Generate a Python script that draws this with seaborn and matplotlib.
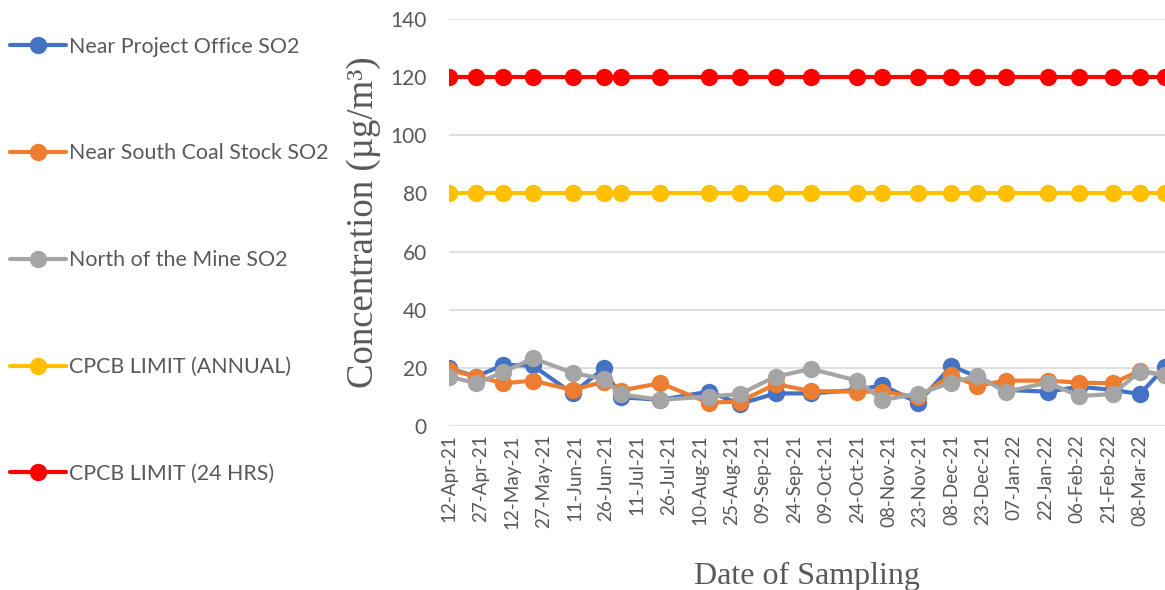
import matplotlib
matplotlib.use("Agg")
import matplotlib.pyplot as plt
import matplotlib.dates as mdates
import pandas as pd
import seaborn as sns

# Sampling dates and SO2 readings (ug/m3)
dates = ["2021-04-12", "2021-04-25", "2021-05-08", "2021-05-22", "2021-06-10",
         "2021-06-25", "2021-07-03", "2021-07-22", "2021-08-14", "2021-08-29",
         "2021-09-15", "2021-10-02", "2021-10-24", "2021-11-05", "2021-11-22",
         "2021-12-08", "2021-12-20", "2022-01-03", "2022-01-23", "2022-02-07",
         "2022-02-23", "2022-03-08", "2022-03-20"]
project_office = [19.8, 17.0, 21.0, 20.8, 11.2, 19.8, 9.9, 9.0, 11.8, 7.6, 11.2, 11.2,
                  12.4, 14.0, 8.0, 20.6, 17.0, 12.4, 11.8, 13.5, 12.4, 11.0, 20.2]
south_coal = [19.3, 17.0, 14.7, 15.6, 12.4, 15.2, 12.2, 14.7, 8.0, 8.4, 14.4, 12.0,
              11.8, 11.8, 9.9, 17.5, 13.8, 15.6, 15.6, 14.9, 14.7, 19.0, 17.5]
north_mine = [17.0, 14.7, 18.5, 23.3, 18.3, 16.1, 10.9, 9.0, 10.1, 11.0, 17.0, 19.6,
              15.6, 9.0, 11.0, 14.9, 17.2, 11.8, 14.9, 10.3, 11.0, 18.7, 17.5]
limit_annual = [80] * len(dates)
limit_24h = [120] * len(dates)

series_names = ["Near Project Office SO2", "Near South Coal Stock SO2",
                "North of the Mine SO2", "CPCB LIMIT (ANNUAL)", "CPCB LIMIT (24 HRS)"]
series_values = [project_office, south_coal, north_mine, limit_annual, limit_24h]
colors = ["#4472C4", "#ED7D31", "#A5A5A5", "#FFC000", "#FF0000"]

# long format for seaborn
frames = []
for name, vals in zip(series_names, series_values):
    frames.append(pd.DataFrame({"date": pd.to_datetime(dates), "value": vals, "series": name}))
df = pd.concat(frames, ignore_index=True)

sns.set_theme(style="white")
plt.rcParams['font.family'] = ['Lato', 'DejaVu Sans']

fig = plt.figure(figsize=(11.65, 5.9), dpi=100)
ax = fig.add_axes([0.3854, 0.278, 0.6146, 0.690])

sns.lineplot(data=df, x="date", y="value", hue="series", hue_order=series_names,
             palette=colors, marker="o", markersize=12.5, markeredgewidth=0,
             linewidth=3, ax=ax, legend=True)

ax.set_ylim(0, 140)
ax.set_yticks(range(0, 141, 20))
ax.set_xlim(pd.Timestamp("2021-04-12"), pd.Timestamp("2022-03-20"))

ticks = pd.date_range("2021-04-12", periods=23, freq="15D")
ax.set_xticks(ticks)
ax.xaxis.set_major_formatter(mdates.DateFormatter("%d-%b-%y"))
ax.tick_params(axis="x", rotation=90, labelsize=13.6, colors="#595959", length=0, pad=6)
ax.tick_params(axis="y", labelsize=15, colors="#595959", length=0, pad=16)

ax.grid(axis="y", color="#D9D9D9", linewidth=1.2)
ax.set_axisbelow(True)
for s in ax.spines.values():
    s.set_visible(False)

ax.set_ylabel("Concentration (µg/m³)", family="Liberation Serif", fontsize=26.5,
              color="#595959", labelpad=7)
ax.set_xlabel("Date of Sampling", family="Liberation Serif", fontsize=23,
              color="#595959", labelpad=24)

handles, labels = ax.get_legend_handles_labels()
ax.legend_.remove()
fig.legend(handles, labels, loc="upper left", bbox_to_anchor=(0.0086, 0.938),
           frameon=False, fontsize=15.4, labelspacing=4.06, handlelength=2.6,
           handletextpad=0.15, labelcolor="#595959", borderaxespad=0, borderpad=0)

fig.savefig("out.png", dpi=100)
